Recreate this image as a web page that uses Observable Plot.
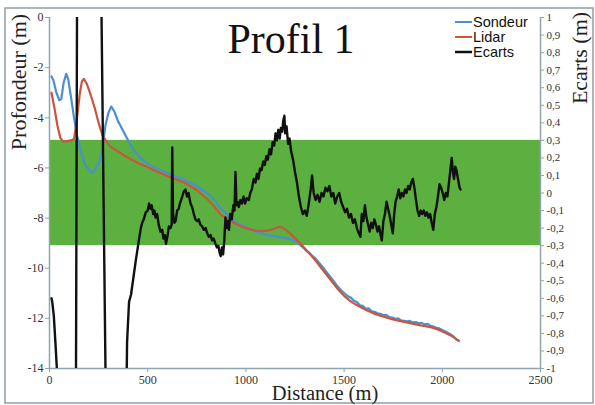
<!DOCTYPE html>
<html><head><meta charset="utf-8">
<script src="https://cdn.jsdelivr.net/npm/d3@7"></script>
<script src="https://cdn.jsdelivr.net/npm/@observablehq/plot@0.6"></script>
<style>body{margin:0;background:#fff} #c{position:relative;width:595px;height:405px} #c svg text{font-family:'Liberation Serif','Times New Roman',serif}</style>
</head><body><div id="c"></div>
<script>
const xTicks = [0, 500, 1000, 1500, 2000, 2500];
const depthTicks = [0, -2, -4, -6, -8, -10, -12, -14];
const ecartTicks = [1, 0.9, 0.8, 0.7, 0.6, 0.5, 0.4, 0.3, 0.2, 0.1, 0, -0.1, -0.2, -0.3, -0.4, -0.5, -0.6, -0.7, -0.8, -0.9, -1];
const bandEcart = [-0.3, 0.3];
const seriesNames = ["Sondeur", "Lidar", "Ecarts"];
const seriesColors = ["#4a8fcf", "#c9553f", "#111111"];
const titleText = "Profil 1";

// [distance (m), profondeur (m)]
const sondeur = [[10,-2.35],[20,-2.5],[35,-3.0],[50,-3.3],[60,-3.25],[72,-2.6],[85,-2.25],[95,-2.45],[110,-3.2],[125,-4.0],[140,-4.7],[155,-5.2],[170,-5.6],[185,-5.95],[200,-6.05],[215,-6.2],[225,-6.15],[240,-5.95],[255,-5.75],[270,-5.2],[285,-4.3],[300,-3.8],[315,-3.55],[330,-3.75],[350,-4.15],[370,-4.45],[390,-4.75],[410,-5.05],[430,-5.3],[450,-5.5],[470,-5.65],[490,-5.78],[510,-5.88],[540,-6.0],[570,-6.1],[600,-6.2],[630,-6.3],[660,-6.38],[690,-6.48],[720,-6.6],[750,-6.72],[780,-6.88],[810,-7.05],[840,-7.28],[870,-7.6],[900,-7.82],[930,-8.05],[960,-8.22],[990,-8.33],[1020,-8.44],[1050,-8.55],[1080,-8.62],[1110,-8.68],[1140,-8.72],[1170,-8.76],[1200,-8.8],[1230,-8.85],[1250,-8.92],[1265,-8.97],[1280,-9.1],[1295,-9.2],[1310,-9.32],[1325,-9.4],[1340,-9.52],[1355,-9.62],[1370,-9.76],[1385,-9.9],[1400,-10.05],[1415,-10.2],[1430,-10.35],[1445,-10.5],[1460,-10.66],[1475,-10.8],[1490,-10.92],[1505,-11.02],[1520,-11.12],[1535,-11.18],[1550,-11.3],[1565,-11.35],[1580,-11.48],[1595,-11.5],[1610,-11.62],[1625,-11.6],[1640,-11.72],[1655,-11.74],[1670,-11.8],[1685,-11.82],[1700,-11.88],[1715,-11.86],[1730,-11.95],[1745,-11.97],[1760,-12.02],[1775,-12.0],[1790,-12.08],[1805,-12.1],[1820,-12.12],[1835,-12.1],[1850,-12.16],[1865,-12.15],[1880,-12.2],[1895,-12.18],[1910,-12.24],[1925,-12.22],[1940,-12.3],[1955,-12.33],[1970,-12.38],[1985,-12.4],[2000,-12.46],[2015,-12.52],[2030,-12.58],[2045,-12.65],[2060,-12.74],[2070,-12.84],[2080,-12.88]];

const lidar = [[10,-3.0],[25,-3.6],[40,-4.3],[55,-4.8],[70,-4.95],[90,-4.93],[110,-4.9],[125,-4.85],[140,-4.0],[155,-3.0],[165,-2.55],[175,-2.45],[190,-2.65],[210,-3.1],[230,-3.6],[250,-4.2],[270,-4.7],[290,-4.95],[310,-5.15],[330,-5.25],[360,-5.4],[390,-5.55],[420,-5.68],[450,-5.8],[480,-5.9],[510,-6.0],[540,-6.12],[570,-6.22],[600,-6.32],[630,-6.42],[660,-6.5],[690,-6.6],[720,-6.74],[750,-6.88],[780,-7.08],[810,-7.3],[840,-7.55],[870,-7.85],[900,-8.0],[930,-8.15],[960,-8.28],[990,-8.38],[1020,-8.45],[1050,-8.5],[1080,-8.52],[1110,-8.5],[1140,-8.44],[1165,-8.36],[1180,-8.36],[1200,-8.45],[1230,-8.65],[1260,-8.88],[1290,-9.12],[1320,-9.38],[1350,-9.65],[1380,-9.95],[1410,-10.25],[1440,-10.55],[1470,-10.85],[1500,-11.1],[1530,-11.3],[1560,-11.45],[1590,-11.58],[1620,-11.7],[1650,-11.8],[1680,-11.88],[1710,-11.95],[1740,-12.02],[1770,-12.08],[1800,-12.13],[1830,-12.18],[1860,-12.23],[1890,-12.28],[1920,-12.32],[1950,-12.37],[1980,-12.45],[2010,-12.55],[2040,-12.67],[2070,-12.82],[2085,-12.9]];

// [distance (m), ecart (m)] – right axis
const ecarts = [[10,-0.60],[14,-0.62],[18,-0.66],[22,-0.70],[30,-0.85],[40,-1.05],[60,-2],[130,-3],[145,3],[245,3],[305,-3],[372,-3],[395,-0.85],[405,-0.62],[415,-0.58],[425,-0.5],[440,-0.38],[455,-0.27],[465,-0.2],[472,-0.17],[480,-0.15],[490,-0.11],[500,-0.1],[507,-0.06],[514,-0.09],[520,-0.07],[528,-0.12],[534,-0.1],[540,-0.14],[548,-0.12],[556,-0.18],[565,-0.22],[574,-0.21],[580,-0.26],[587,-0.24],[593,-0.29],[600,-0.25],[608,-0.19],[616,-0.2],[622,-0.18],[625,0.26],[629,-0.12],[636,-0.17],[642,-0.16],[650,-0.1],[658,-0.09],[664,-0.06],[670,-0.04],[676,-0.02],[684,0.01],[692,0.02],[700,-0.02],[708,0.0],[718,-0.06],[726,-0.08],[735,-0.12],[743,-0.15],[752,-0.16],[760,-0.15],[768,-0.18],[777,-0.19],[786,-0.21],[795,-0.2],[803,-0.23],[811,-0.25],[820,-0.24],[828,-0.27],[836,-0.26],[845,-0.29],[852,-0.31],[860,-0.3],[866,-0.34],[872,-0.36],[878,-0.31],[884,-0.35],[890,-0.27],[896,-0.14],[902,-0.2],[908,-0.16],[914,-0.21],[920,-0.12],[928,-0.15],[936,-0.07],[942,-0.1],[947,0.12],[952,-0.07],[958,-0.05],[964,-0.08],[972,-0.04],[980,-0.06],[988,-0.02],[996,-0.06],[1004,-0.03],[1015,-0.04],[1022,0.0],[1030,0.02],[1040,0.08],[1049,0.06],[1056,0.11],[1064,0.08],[1072,0.14],[1080,0.13],[1088,0.18],[1096,0.16],[1104,0.21],[1112,0.19],[1120,0.25],[1128,0.22],[1136,0.29],[1144,0.27],[1151,0.34],[1158,0.3],[1165,0.36],[1172,0.31],[1178,0.37],[1185,0.35],[1190,0.41],[1196,0.44],[1200,0.34],[1207,0.38],[1215,0.28],[1222,0.31],[1230,0.24],[1240,0.19],[1250,0.12],[1260,0.06],[1270,-0.02],[1280,-0.08],[1290,-0.12],[1300,-0.1],[1310,-0.13],[1320,-0.06],[1330,0.02],[1337,0.1],[1345,0.0],[1355,-0.04],[1365,-0.01],[1375,-0.05],[1385,0.0],[1395,-0.02],[1405,0.03],[1415,0.01],[1425,0.04],[1435,-0.02],[1445,0.0],[1455,-0.06],[1465,-0.02],[1475,0.0],[1485,-0.05],[1495,-0.08],[1505,-0.11],[1515,-0.09],[1525,-0.14],[1535,-0.12],[1545,-0.17],[1555,-0.15],[1565,-0.2],[1575,-0.23],[1583,-0.25],[1590,-0.12],[1598,-0.16],[1606,-0.07],[1614,-0.14],[1622,-0.18],[1630,-0.22],[1638,-0.17],[1646,-0.2],[1654,-0.15],[1662,-0.18],[1670,-0.22],[1678,-0.19],[1686,-0.24],[1692,-0.27],[1700,-0.16],[1708,-0.12],[1716,-0.05],[1724,-0.09],[1732,-0.13],[1740,-0.18],[1748,-0.23],[1755,-0.12],[1762,-0.05],[1770,-0.02],[1778,0.02],[1786,-0.03],[1794,0.0],[1802,-0.02],[1810,0.02],[1818,0.0],[1826,0.04],[1834,0.02],[1842,0.06],[1850,0.08],[1858,0.03],[1866,-0.04],[1874,-0.1],[1882,-0.13],[1890,-0.1],[1898,-0.12],[1906,-0.1],[1914,-0.13],[1922,-0.11],[1930,-0.14],[1938,-0.12],[1946,-0.17],[1954,-0.21],[1962,-0.12],[1970,-0.08],[1978,-0.02],[1986,0.05],[1994,0.03],[2002,0.0],[2010,-0.04],[2018,0.0],[2026,-0.02],[2034,0.06],[2042,0.14],[2048,0.2],[2054,0.12],[2060,0.08],[2066,0.15],[2072,0.13],[2080,0.08],[2088,0.03],[2093,0.02]];

// map right-axis (ecart) values onto the depth scale: -1..1  ->  -14..0
const toDepth = e => -7 + 7 * e;
const fmtE = v => { const r = Math.round(v * 10) / 10; return r === 0 ? "0" : String(r).replace(".", ","); };
const axisCol = "#8fa5b0";
const serif = "Liberation Serif";

const chart = Plot.plot({
  width: 595, height: 405,
  marginLeft: 49, marginRight: 55, marginTop: 17, marginBottom: 37,
  x: {domain: [xTicks[0], xTicks[xTicks.length - 1]]},
  y: {domain: [depthTicks[depthTicks.length - 1], depthTicks[0]]},
  style: {fontFamily: serif, fontSize: "12px", color: "#333", background: "transparent"},
  marks: [
    Plot.rect([bandEcart], {x1: () => xTicks[0], x2: () => xTicks[xTicks.length - 1], y1: d => toDepth(d[0]), y2: d => toDepth(d[1]), fill: "#5cb040"}),
    Plot.ruleX([xTicks[0], xTicks[xTicks.length - 1]], {stroke: axisCol, strokeWidth: 1.5}),
    Plot.ruleY([depthTicks[depthTicks.length - 1]], {stroke: axisCol, strokeWidth: 1.5}),
    Plot.axisX({ticks: xTicks, tickFormat: d => String(d), tickSize: 4, tickPadding: 3, label: null, stroke: axisCol, fill: "#333", fontFamily: serif, fontSize: 12}),
    Plot.axisY({anchor: "left", ticks: depthTicks, tickFormat: d => String(d), tickSize: 4, tickPadding: 2, label: null, stroke: axisCol, fill: "#333", fontFamily: serif, fontSize: 12}),
    Plot.axisY({anchor: "right", ticks: ecartTicks.map(toDepth), tickFormat: d => fmtE((d + 7) / 7), tickSize: 3, tickPadding: 3, label: null, stroke: axisCol, fill: "#333", fontFamily: serif, fontSize: 11}),
    Plot.line(sondeur, {x: d => d[0], y: d => d[1], stroke: seriesColors[0], strokeWidth: 2.2, clip: true}),
    Plot.line(lidar, {x: d => d[0], y: d => d[1], stroke: seriesColors[1], strokeWidth: 2.2, clip: true}),
    Plot.line(ecarts, {x: d => d[0], y: d => toDepth(d[1]), stroke: seriesColors[2], strokeWidth: 2.4, clip: true})
  ]
});
document.getElementById("c").appendChild(chart);

const svg = d3.select(chart);
svg.append("rect").attr("x", 5).attr("y", 8).attr("width", 588).attr("height", 395)
  .attr("fill", "none").attr("stroke", "#8d9ea6").attr("stroke-width", 1.5);
svg.append("text").attr("x", 291).attr("y", 53).attr("text-anchor", "middle")
  .attr("font-size", 42).attr("fill", "#111").text(titleText);
svg.append("text").attr("transform", "translate(26,82) rotate(-90)").attr("text-anchor", "middle")
  .attr("font-size", 22).attr("fill", "#222").text("Profondeur (m)");
svg.append("text").attr("transform", "translate(587,58) rotate(-90)").attr("text-anchor", "middle")
  .attr("font-size", 22).attr("fill", "#222").text("Ecarts (m)");
svg.append("text").attr("x", 325).attr("y", 400).attr("text-anchor", "middle")
  .attr("font-size", 20.5).attr("fill", "#222").text("Distance (m)");

const lg = svg.append("g");
seriesNames.forEach((name, i) => {
  const y = 22 + i * 15;
  lg.append("line").attr("x1", 455).attr("x2", 472).attr("y1", y).attr("y2", y)
    .attr("stroke", seriesColors[i]).attr("stroke-width", i === 2 ? 2.5 : 2);
  lg.append("text").attr("x", 473).attr("y", y + 5).attr("text-anchor", "start")
    .style("font-family", "'Liberation Sans', Arial, sans-serif")
    .attr("font-size", 14.5).attr("fill", "#111").text(name);
});
</script>
</body></html>
